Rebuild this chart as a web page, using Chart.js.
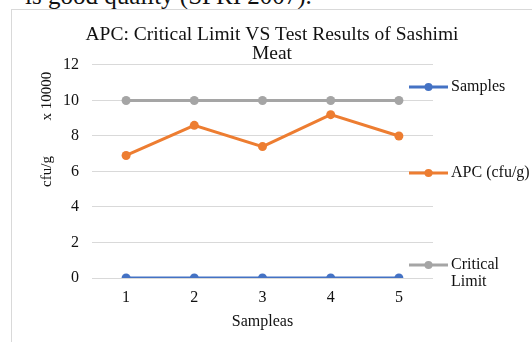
<!DOCTYPE html>
<html>
<head>
<meta charset="utf-8">
<script src="https://cdn.jsdelivr.net/npm/chart.js@4/dist/chart.umd.min.js"></script>
<style>
  html, body { margin: 0; padding: 0; background: #fff; overflow: hidden; }
  body { width: 532px; height: 342px; position: relative; }
  #caption {
    position: absolute; left: 25px; top: -17px; margin: 0;
    font: 25px/25px "Liberation Serif", "Times New Roman", serif; color: #111; white-space: nowrap;
  }
  #box {
    position: absolute; left: 11px; top: 9px; width: 530px; height: 340px;
    border-left: 1px solid #d9d9d9; border-top: 1px solid #d9d9d9; background: #fff;
  }
  #wrap { position: absolute; left: 0; top: 0; width: 520px; height: 332px; }
</style>
</head>
<body>
<p id="caption">is good quality (SPRI 2007).</p>
<div id="box"><div id="wrap"><canvas id="c"></canvas></div></div>
<script>
// Sample numbers on the x axis
const categories = ['1', '2', '3', '4', '5'];
// Series values, in units of 10000 cfu/g
const samples = [0, 0, 0, 0, 0];
const apc = [6.9, 8.6, 7.4, 9.2, 8.0];
const criticalLimit = [10, 10, 10, 10, 10];
// Legend entries (text lines) in draw order
const legendLabels = [['Samples'], ['APC (cfu/g)'], ['Critical', 'Limit']];

const SERIF = '"Liberation Serif", "Times New Roman", serif';
const TEXT = '#111111';
const colors = ['#4472C4', '#ED7D31', '#A5A5A5'];

// Legend drawn at the right edge, spread down the plot height,
// plus the "x 10000" display-unit label beside the value axis.
const sideLabels = {
  id: 'sideLabels',
  afterDraw(chart) {
    const ctx = chart.ctx;
    const a = chart.chartArea;
    ctx.save();
    ctx.font = '16px ' + SERIF;
    ctx.fillStyle = TEXT;
    ctx.textBaseline = 'middle';
    ctx.textAlign = 'left';
    const rows = [a.top + 22, a.top + 108, a.bottom - 13];
    legendLabels.forEach((lines, i) => {
      const y = rows[i];
      const x0 = a.right - 24, x1 = a.right + 15;
      ctx.strokeStyle = colors[i];
      ctx.lineWidth = 3;
      ctx.beginPath(); ctx.moveTo(x0, y); ctx.lineTo(x1, y); ctx.stroke();
      ctx.fillStyle = colors[i];
      ctx.beginPath(); ctx.arc((x0 + x1) / 2, y, 4, 0, Math.PI * 2); ctx.fill();
      ctx.fillStyle = TEXT;
      lines.forEach((t, k) => ctx.fillText(t, x1 + 3, y + k * 17));
    });
    ctx.font = '15px ' + SERIF;
    ctx.translate(35, 86);
    ctx.rotate(-Math.PI / 2);
    ctx.textAlign = 'center';
    ctx.fillText('x 10000', 0, 0);
    ctx.restore();
  }
};

const mk = (label, data, i) => ({
  label, data,
  borderColor: colors[i], backgroundColor: colors[i],
  borderWidth: 3, pointRadius: 4.5, pointHoverRadius: 4.5,
  pointBorderWidth: 0, tension: 0
});

new Chart(document.getElementById('c'), {
  type: 'line',
  data: {
    labels: categories,
    datasets: [
      mk('Samples', samples, 0),
      mk('APC (cfu/g)', apc, 1),
      mk('Critical Limit', criticalLimit, 2)
    ]
  },
  options: {
    responsive: true,
    maintainAspectRatio: false,
    animation: false,
    events: [],
    layout: { padding: 0 },
    plugins: {
      legend: { display: false },
      tooltip: { enabled: false },
      title: {
        display: true,
        text: ['APC: Critical Limit VS Test Results of Sashimi', 'Meat'],
        color: TEXT,
        font: { family: SERIF, size: 19.5, weight: 'normal', lineHeight: 0.95 },
        padding: { top: 15.7, bottom: 2.2 }
      }
    },
    scales: {
      x: {
        offset: true,
        grid: { display: false, drawTicks: false },
        border: { display: false },
        ticks: { color: TEXT, font: { family: SERIF, size: 16 }, padding: 10 },
        title: {
          display: true, text: 'Sampleas', color: TEXT,
          font: { family: SERIF, size: 16 }, padding: { top: 0, bottom: 11 }
        },
        afterFit(s) { s.height = 64; }
      },
      y: {
        min: 0, max: 12,
        ticks: { stepSize: 2, color: TEXT, font: { family: SERIF, size: 16 }, padding: 13 },
        grid: { color: '#d9d9d9', lineWidth: 1, drawTicks: false },
        border: { display: false },
        title: {
          display: true, text: 'cfu/g', color: TEXT,
          font: { family: SERIF, size: 15 }, padding: { top: 26, bottom: 0 }
        },
        afterFit(s) { s.width = 80; }
      },
      // Empty right-hand band that leaves room for the legend
      legendSpace: {
        type: 'linear', position: 'right', display: true,
        grid: { display: false, drawTicks: false },
        border: { display: false },
        ticks: { display: false },
        afterFit(s) { s.width = 99; }
      }
    }
  },
  plugins: [sideLabels]
});
</script>
</body>
</html>
